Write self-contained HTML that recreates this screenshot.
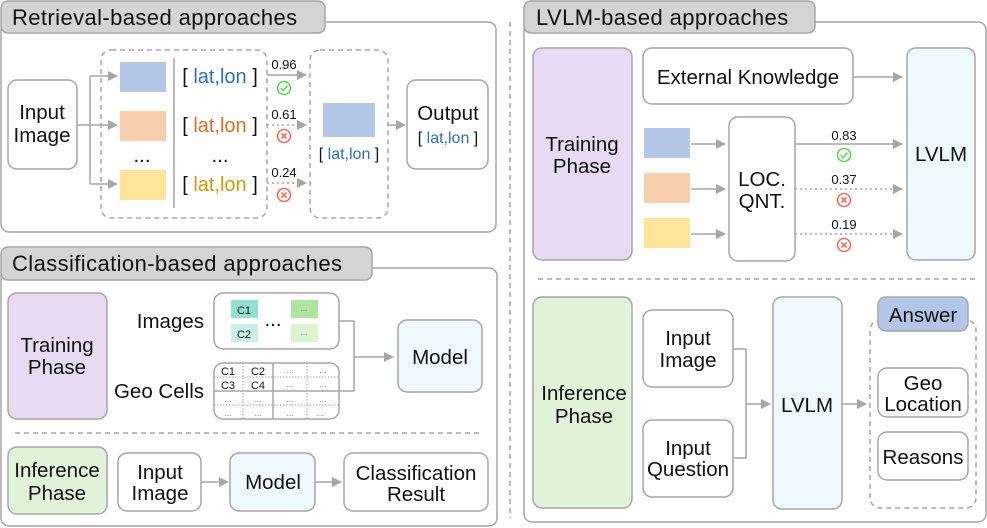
<!DOCTYPE html>
<html><head><meta charset="utf-8"><style>
html,body{margin:0;padding:0;background:#fff;}
svg{display:block;font-family:"Liberation Sans","DejaVu Sans",sans-serif;}
</style></head><body>
<svg width="987" height="528" viewBox="0 0 987 528" xmlns="http://www.w3.org/2000/svg">
<defs>
<marker id="ah" markerWidth="10" markerHeight="10" refX="9" refY="5" orient="auto" markerUnits="userSpaceOnUse">
<path d="M0,0 L10,5 L0,10 z" fill="#a6a6a6"/></marker>
<g id="ok"><circle r="6.5" fill="none" stroke="#5fd35a" stroke-width="1.6"/><path d="M-3.2,0.2 L-0.8,2.6 L3.4,-2.4" fill="none" stroke="#5fd35a" stroke-width="1.6"/></g>
<g id="no"><circle r="6.5" fill="none" stroke="#f26b5e" stroke-width="1.6"/><path d="M-2.6,-2.6 L2.6,2.6 M2.6,-2.6 L-2.6,2.6" stroke="#f26b5e" stroke-width="1.6"/></g>
</defs>
<g stroke="#a6a6a6" stroke-width="1.5" fill="none">
<rect x="1" y="22" width="495" height="210" rx="8" fill="#fff"/>
<rect x="1" y="1" width="324" height="32" rx="7" fill="#d4d4d4"/>
<rect x="1" y="268" width="496" height="258" rx="8" fill="#fff"/>
<rect x="1" y="247" width="371" height="33" rx="7" fill="#d4d4d4"/>
<rect x="524" y="22" width="462" height="500" rx="8" fill="#fff"/>
<rect x="524" y="1" width="291" height="32" rx="7" fill="#d4d4d4"/>
<line x1="510" y1="22" x2="510" y2="518" stroke-dasharray="5,4"/>
</g>
<g font-size="22" fill="#111" letter-spacing="0.4">
<text x="12" y="25">Retrieval-based approaches</text>
<text x="12" y="271">Classification-based approaches</text>
<text x="536" y="25">LVLM-based approaches</text>
</g>

<g stroke="#a6a6a6" stroke-width="1.5" fill="none">
<rect x="8" y="80" width="69" height="89" rx="9" fill="#fff"/>
<rect x="101" y="50" width="166" height="168" rx="10" stroke-dasharray="5,4"/>
<line x1="174" y1="58" x2="174" y2="208"/>
<rect x="310" y="50" width="78" height="168" rx="10" stroke-dasharray="5,4"/>
<rect x="407" y="80" width="81" height="89" rx="9" fill="#fff"/>
<path d="M77,125 H90 M90,76 V184" />
<line x1="90" y1="76" x2="117" y2="76" marker-end="url(#ah)"/>
<line x1="90" y1="125" x2="117" y2="125" marker-end="url(#ah)"/>
<line x1="90" y1="184" x2="117" y2="184" marker-end="url(#ah)"/>
<line x1="267" y1="75" x2="306" y2="75" marker-end="url(#ah)"/>
<line x1="267" y1="125" x2="306" y2="125" stroke-dasharray="2,3" marker-end="url(#ah)"/>
<line x1="267" y1="183" x2="306" y2="183" stroke-dasharray="2,3" marker-end="url(#ah)"/>
<line x1="388" y1="125" x2="405" y2="125" marker-end="url(#ah)"/>
</g>
<rect x="120" y="62" width="46" height="30" fill="#b4c7e7"/>
<rect x="120" y="111" width="46" height="30" fill="#f8cfae"/>
<rect x="120" y="170" width="46" height="30" fill="#fee599"/>
<rect x="323" y="103" width="52" height="34" fill="#b4c7e7"/>
<use href="#ok" x="284" y="88"/><use href="#no" x="284" y="136"/><use href="#no" x="284" y="195"/>
<g font-size="13" fill="#111" text-anchor="middle">
<text x="284" y="69">0.96</text><text x="284" y="119">0.61</text><text x="284" y="177">0.24</text>
</g>
<g font-size="20.5" fill="#111" text-anchor="middle">
<text x="42" y="119">Input</text><text x="42" y="142">Image</text>
<text x="448" y="120">Output</text>
<text x="142" y="162">...</text><text x="220" y="162">...</text>
</g>
<g font-size="20" fill="#111" text-anchor="middle">
<text x="220" y="83">[ <tspan fill="#2e6fb6">lat,lon</tspan> ]</text>
<text x="220" y="132">[ <tspan fill="#d86e2c">lat,lon</tspan> ]</text>
<text x="220" y="191">[ <tspan fill="#c99a0c">lat,lon</tspan> ]</text>
</g>
<g font-size="16" fill="#111" text-anchor="middle">
<text x="349" y="159">[ <tspan fill="#2e6fb6">lat,lon</tspan> ]</text>
<text x="448" y="143">[ <tspan fill="#2e6fb6">lat,lon</tspan> ]</text>
</g>

<g stroke="#a6a6a6" stroke-width="1.5">
<rect x="8" y="293" width="99" height="126" rx="9" fill="#e8daf3"/>
<rect x="214" y="293" width="125" height="56" rx="9" fill="#fff"/>
<rect x="214" y="363" width="125" height="56" rx="9" fill="#fff"/>
<rect x="398" y="320" width="84" height="72" rx="9" fill="#eef9fd"/>
<rect x="8" y="447" width="99" height="67" rx="9" fill="#e0f3d8"/>
<rect x="118" y="453" width="83" height="58" rx="9" fill="#fff"/>
<rect x="230" y="453" width="85" height="58" rx="9" fill="#eef9fd"/>
<rect x="344" y="453" width="144" height="58" rx="9" fill="#fff"/>
<g fill="none">
<path d="M339,321 H354 V391 H339" />
<line x1="354" y1="357" x2="393" y2="357" marker-end="url(#ah)"/>
<line x1="201" y1="482" x2="228" y2="482" marker-end="url(#ah)"/>
<line x1="315" y1="482" x2="341" y2="482" marker-end="url(#ah)"/>
<line x1="15" y1="433" x2="483" y2="433" stroke-dasharray="5,4"/>
<line x1="214" y1="391" x2="339" y2="391"/>
<line x1="273" y1="363" x2="273" y2="419"/>
<g stroke-dasharray="1.5,1.5" stroke-width="1"><line x1="214" y1="377" x2="339" y2="377"/><line x1="214" y1="405" x2="339" y2="405"/><line x1="243" y1="363" x2="243" y2="419"/><line x1="307" y1="363" x2="307" y2="419"/></g>
</g>
</g>
<rect x="231" y="300" width="27" height="18" fill="#8fe0d0"/>
<rect x="231" y="324" width="27" height="18" fill="#c8f0e8"/>
<rect x="291" y="300" width="27" height="18" fill="#b0e5a0"/>
<rect x="291" y="324" width="27" height="18" fill="#dcf3d0"/>
<g font-size="11" fill="#111" text-anchor="middle">
<text x="244" y="314">C1</text><text x="244" y="338">C2</text>
<text x="228" y="375">C1</text><text x="258" y="375">C2</text><text x="228" y="389">C3</text><text x="258" y="389">C4</text>
</g>
<g font-size="8" fill="#666" text-anchor="middle">
<text x="304" y="311">...</text><text x="304" y="335">...</text>
<text x="290" y="373">...</text><text x="323" y="373">...</text><text x="290" y="387">...</text><text x="323" y="387">...</text>
<text x="228" y="402">...</text><text x="258" y="402">...</text><text x="290" y="402">...</text><text x="323" y="402">...</text>
<text x="228" y="416">...</text><text x="258" y="416">...</text><text x="290" y="416">...</text><text x="320" y="416">...</text>
</g>
<g font-size="20.5" fill="#111" text-anchor="middle">
<text x="57" y="352">Training</text><text x="57" y="374">Phase</text>
<text x="273" y="326">...</text>
<text x="440" y="364">Model</text>
<text x="57" y="477">Inference</text><text x="57" y="500">Phase</text>
<text x="160" y="479">Input</text><text x="160" y="500">Image</text>
<text x="273" y="489">Model</text>
<text x="416" y="480">Classification</text><text x="416" y="501">Result</text>
</g>
<g font-size="20.5" fill="#111" text-anchor="end">
<text x="204" y="328">Images</text><text x="204" y="398">Geo Cells</text>
</g>

<g stroke="#a6a6a6" stroke-width="1.5">
<rect x="533" y="48" width="99" height="212" rx="9" fill="#e8daf3"/>
<rect x="643" y="48" width="210" height="56" rx="9" fill="#fff"/>
<rect x="907" y="48" width="68" height="212" rx="9" fill="#eef9fd"/>
<rect x="729" y="117" width="66" height="144" rx="9" fill="#fff"/>
<rect x="533" y="297" width="99" height="211" rx="9" fill="#e0f3d8"/>
<rect x="643" y="310" width="90" height="77" rx="9" fill="#fff"/>
<rect x="643" y="420" width="90" height="77" rx="9" fill="#fff"/>
<rect x="773" y="297" width="69" height="212" rx="9" fill="#eef9fd"/>
<rect x="870" y="320" width="106" height="188" rx="10" fill="none" stroke-dasharray="5,4"/>
<rect x="878" y="297" width="90" height="34" rx="8" fill="#b4c6e7"/>
<rect x="878" y="368" width="90" height="49" rx="9" fill="#fff"/>
<rect x="878" y="432" width="90" height="48" rx="9" fill="#fff"/>
<g fill="none">
<line x1="853" y1="77" x2="902" y2="77" marker-end="url(#ah)"/>
<line x1="691" y1="144" x2="725" y2="144" marker-end="url(#ah)"/>
<line x1="691" y1="189" x2="725" y2="189" marker-end="url(#ah)"/>
<line x1="691" y1="234" x2="725" y2="234" marker-end="url(#ah)"/>
<line x1="795" y1="144" x2="902" y2="144" marker-end="url(#ah)"/>
<line x1="795" y1="189" x2="902" y2="189" stroke-dasharray="2,3" marker-end="url(#ah)"/>
<line x1="795" y1="234" x2="902" y2="234" stroke-dasharray="2,3" marker-end="url(#ah)"/>
<line x1="538" y1="279" x2="976" y2="279" stroke-dasharray="5,4"/>
<path d="M733,349 H746 V458 H733"/>
<line x1="746" y1="404" x2="770" y2="404" marker-end="url(#ah)"/>
<line x1="842" y1="404" x2="866" y2="404" marker-end="url(#ah)"/>
</g>
</g>
<rect x="644" y="128" width="46" height="30" fill="#b4c7e7"/>
<rect x="644" y="173" width="46" height="30" fill="#f8cfae"/>
<rect x="644" y="218" width="46" height="30" fill="#fee599"/>
<use href="#ok" x="844" y="155"/><use href="#no" x="844" y="200"/><use href="#no" x="844" y="245"/>
<g font-size="13" fill="#111" text-anchor="middle">
<text x="844" y="140">0.83</text><text x="844" y="184">0.37</text><text x="844" y="229">0.19</text>
</g>
<g font-size="20.5" fill="#111" text-anchor="middle">
<text x="582" y="151">Training</text><text x="582" y="173">Phase</text>
<text x="748" y="84">External Knowledge</text>
<text x="941" y="161">LVLM</text>
<text x="762" y="186">LOC.</text><text x="762" y="208">QNT.</text>
<text x="584" y="400">Inference</text><text x="584" y="423">Phase</text>
<text x="688" y="345">Input</text><text x="688" y="367">Image</text>
<text x="688" y="455">Input</text><text x="688" y="476">Question</text>
<text x="807" y="412">LVLM</text>
<text x="923" y="322">Answer</text>
<text x="923" y="390">Geo</text><text x="923" y="411">Location</text>
<text x="923" y="464">Reasons</text>
</g>
</svg>
</body></html>
